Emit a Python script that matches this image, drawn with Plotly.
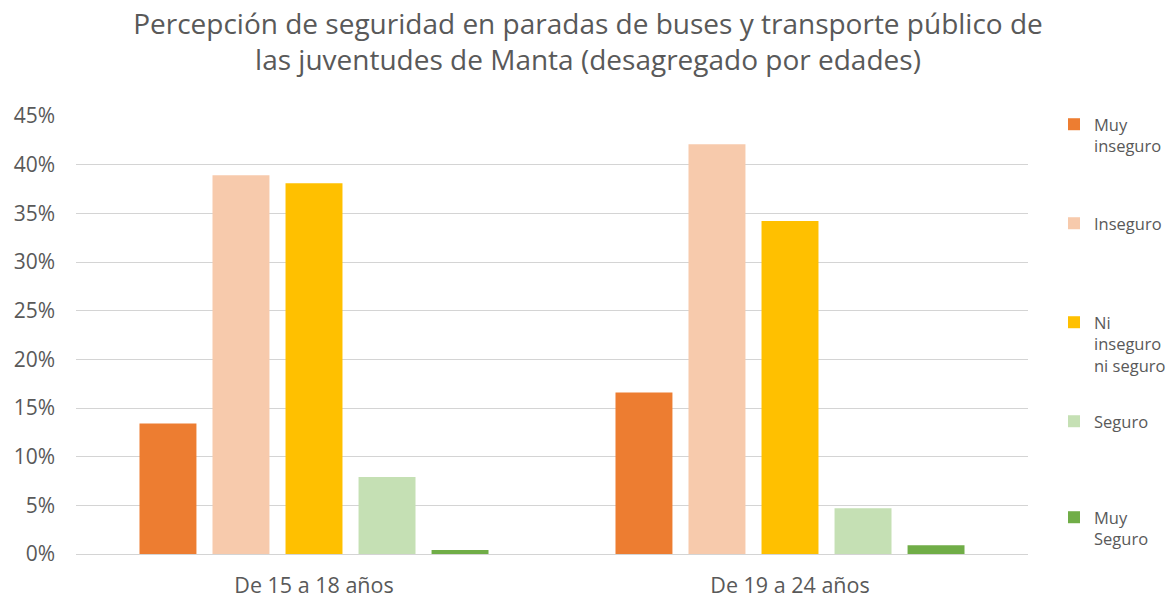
import plotly.graph_objects as go

categories = ["De 15 a 18 años", "De 19 a 24 años"]
series_names = ["Muy<br>inseguro", "Inseguro", "Ni<br>inseguro<br>ni seguro", "Seguro", "Muy<br>Seguro"]
muy_inseguro = [0.134, 0.166]
inseguro = [0.389, 0.421]
ni_inseguro_ni_seguro = [0.381, 0.342]
seguro = [0.079, 0.047]
muy_seguro = [0.004, 0.009]
colors = ["#ED7D31", "#F7CAAC", "#FFC000", "#C5E0B4", "#70AD47"]
tick_vals = [0, 0.05, 0.10, 0.15, 0.20, 0.25, 0.30, 0.35, 0.40, 0.45]

series_values = [muy_inseguro, inseguro, ni_inseguro_ni_seguro, seguro, muy_seguro]
legend_tops = [107, 206, 305, 404, 500]

FONT = "Open Sans"
TXT = "#595959"
H = 597
W = 1170

fig = go.Figure()
layout_legends = {}
for i, (name, vals, col) in enumerate(zip(series_names, series_values, colors)):
    lg = "legend" if i == 0 else f"legend{i+1}"
    fig.add_trace(go.Bar(
        x=categories, y=vals, name=name, marker=dict(color=col, line=dict(width=0)),
        legend=lg, hoverinfo="y+name",
    ))
    layout_legends[lg] = dict(
        xref="container", yref="container", x=1054 / W, y=1 - legend_tops[i] / H,
        xanchor="left", yanchor="top", valign="top",
        font=dict(family=FONT, size=16.5, color=TXT), bgcolor="rgba(0,0,0,0)",
    )

fig.update_layout(
    width=W, height=H,
    paper_bgcolor="white", plot_bgcolor="white",
    margin=dict(l=76, r=142, t=116, b=43, autoexpand=False),
    title=dict(
        text="Percepción de seguridad en paradas de buses y transporte público de<br>las juventudes de Manta (desagregado por edades)",
        x=588 / W, xanchor="center", y=1 - 34 / H, yanchor="top",
        font=dict(family=FONT, size=28, color=TXT),
    ),
    barmode="group", bargap=0.233, bargroupgap=0.22,
    showlegend=True,
    **layout_legends,
)
fig.update_yaxes(
    range=[0, 0.45], tickvals=tick_vals, tickformat=".0%",
    showgrid=True, gridcolor="#D4D4D4", gridwidth=1.3,
    zeroline=True, zerolinecolor="#D4D4D4", zerolinewidth=1.3,
    showline=False, ticks="", ticklabelstandoff=20, automargin=False,
    tickfont=dict(family=FONT, size=21, color=TXT),
)
fig.update_xaxes(
    showline=False, ticks="", ticklabelstandoff=16, automargin=False,
    tickfont=dict(family=FONT, size=21.5, color=TXT),
)

fig.write_html(
    "out.html",
    config={"displayModeBar": False},
    post_script="document.body.style.margin='0';document.body.style.overflow='hidden';",
)
